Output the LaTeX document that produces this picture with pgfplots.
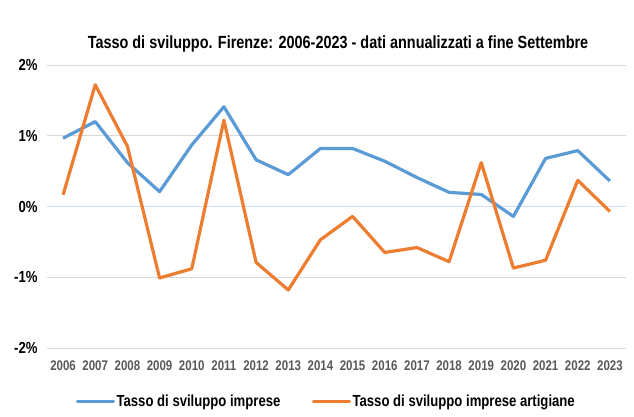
\documentclass[border=0pt]{standalone}
\usepackage{fontspec}
\setmainfont{Liberation Sans}[FakeStretch=0.82]
\usepackage{pgfplots}
\pgfplotsset{compat=1.18}
\definecolor{cblue}{HTML}{5B9BD5}
\definecolor{corange}{HTML}{ED7D31}
\definecolor{cgrid}{HTML}{D9D9D9}
\definecolor{czero}{HTML}{D0E0F0}
\definecolor{clab}{HTML}{595959}
\begin{document}
\begin{tikzpicture}[x=1bp,y=1bp]
\useasboundingbox (0,0) rectangle (634,416);
\begin{axis}[
  at={(47bp,68bp)}, anchor=south west,
  scale only axis, width=579bp, height=283bp,
  xmin=-0.5, xmax=17.5, ymin=-2, ymax=2,
  xtick={0,...,17},
  xticklabels={2006,2007,2008,2009,2010,2011,2012,2013,2014,2015,2016,2017,2018,2019,2020,2021,2022,2023},
  ytick={-2,-1,0,1,2},
  yticklabels={-2\%,-1\%,0\%,1\%,2\%},
  x tick label style={font=\fontsize{14bp}{15bp}\selectfont\bfseries, text=clab, yshift=-9bp},
  y tick label style={font=\fontsize{16bp}{17bp}\selectfont\bfseries, text=black, xshift=-6bp},
  axis line style={draw=none},
  major tick length=0pt,
  ymajorgrids, grid style={cgrid, line width=1bp},
  legend style={at={(0.482,-0.19)}, anchor=center, draw=none, fill=none,
    legend columns=2, font=\fontsize{16bp}{17bp}\selectfont\bfseries,
    nodes={inner xsep=1.5bp},
    /tikz/every even column/.append style={column sep=30bp}},
  legend image code/.code={\draw[#1, line width=3.2bp, line cap=round] (0bp,0bp) -- (36bp,0bp);},
  clip=false,
]
\draw[czero, line width=1bp] (axis cs:-0.5,0) -- (axis cs:17.5,0);
\addplot[cblue, line width=3.2bp, line join=round] coordinates {
(0,0.965) (1,1.20) (2,0.62) (3,0.21) (4,0.87) (5,1.41) (6,0.66) (7,0.45) (8,0.82) (9,0.82) (10,0.64) (11,0.41) (12,0.20) (13,0.17) (14,-0.14) (15,0.68) (16,0.79) (17,0.36)};
\addlegendentry{Tasso di sviluppo imprese}
\addplot[corange, line width=3.2bp, line join=round] coordinates {
(0,0.165) (1,1.72) (2,0.85) (3,-1.01) (4,-0.88) (5,1.22) (6,-0.79) (7,-1.18) (8,-0.47) (9,-0.14) (10,-0.65) (11,-0.58) (12,-0.78) (13,0.62) (14,-0.87) (15,-0.76) (16,0.37) (17,-0.07)};
\addlegendentry{Tasso di sviluppo imprese artigiane}
\end{axis}
\node[font=\fontsize{17.6bp}{18bp}\selectfont\bfseries, anchor=base] at (338,368) {Tasso di sviluppo. Firenze: 2006-2023 - dati annualizzati a fine Settembre};
\end{tikzpicture}
\end{document}
